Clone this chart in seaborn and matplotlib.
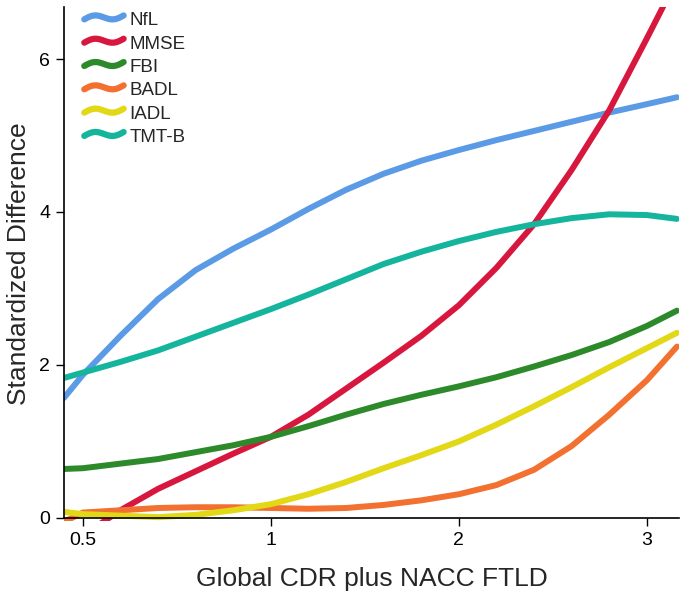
import seaborn as sns
import matplotlib
matplotlib.use("Agg")
import matplotlib.pyplot as plt
import matplotlib.lines as mlines
from matplotlib.legend_handler import HandlerLine2D
import pandas as pd
import numpy as np

# DATA
# x positions on the ordinal CDR axis: 0 = 0.5, 1 = 1, 2 = 2, 3 = 3
cdr_pos = [-0.1, 0.0, 0.2, 0.4, 0.6, 0.8, 1.0, 1.2, 1.4, 1.6, 1.8,
           2.0, 2.2, 2.4, 2.6, 2.8, 3.0, 3.16]
tick_pos = [0, 1, 2, 3]
tick_labels = ['0.5', '1', '2', '3']

nfl = [1.57, 1.87, 2.38, 2.86, 3.24, 3.52, 3.77, 4.04, 4.29, 4.50, 4.67,
       4.81, 4.94, 5.06, 5.18, 5.30, 5.41, 5.50]
mmse = [-0.45, -0.23, 0.10, 0.38, 0.61, 0.84, 1.06, 1.35, 1.69, 2.03, 2.38,
        2.78, 3.27, 3.84, 4.55, 5.33, 6.27, 7.04]
fbi = [0.64, 0.65, 0.71, 0.77, 0.86, 0.95, 1.06, 1.20, 1.35, 1.49, 1.61,
       1.72, 1.84, 1.98, 2.13, 2.30, 2.51, 2.71]
badl = [-0.05, 0.07, 0.10, 0.13, 0.14, 0.14, 0.13, 0.12, 0.13, 0.17, 0.23,
        0.31, 0.43, 0.63, 0.94, 1.35, 1.80, 2.24]
iadl = [0.08, 0.05, 0.03, 0.01, 0.04, 0.10, 0.18, 0.31, 0.47, 0.65, 0.82,
        1.00, 1.22, 1.46, 1.71, 1.97, 2.22, 2.42]
tmtb = [1.83, 1.90, 2.04, 2.19, 2.37, 2.55, 2.73, 2.92, 3.12, 3.32, 3.48,
        3.62, 3.74, 3.84, 3.92, 3.97, 3.96, 3.91]

measures = ['NfL', 'MMSE', 'FBI', 'BADL', 'IADL', 'TMT-B']
colors = {'NfL': '#5b9be6', 'MMSE': '#d8173f', 'FBI': '#2d8a2a',
          'BADL': '#f37130', 'IADL': '#e2d816', 'TMT-B': '#14b59c'}

series = dict(zip(measures, [nfl, mmse, fbi, badl, iadl, tmtb]))
df = pd.concat([pd.DataFrame({'cdr': cdr_pos, 'diff': v, 'measure': k})
                for k, v in series.items()], ignore_index=True)


# wavy legend handles like the original figure
class WavyHandler(HandlerLine2D):
    def create_artists(self, legend, orig_handle, xdescent, ydescent,
                       width, height, fontsize, trans):
        t = np.linspace(0, 1, 40)
        xs = -xdescent + t * width
        ys = -ydescent + height * (0.45 + 0.22 * np.sin(2 * np.pi * t) + 0.3 * t)
        line = mlines.Line2D(xs, ys, color=orig_handle.get_color(),
                             lw=orig_handle.get_linewidth(),
                             solid_capstyle='round')
        line.set_transform(trans)
        return [line]


# VISUALIZATION
sns.set_style('ticks')
plt.rcParams['font.family'] = ['Liberation Sans', 'DejaVu Sans']

fig = plt.figure(figsize=(6.85, 5.94), dpi=100)
ax = fig.add_axes([0.0934, 0.1229, 0.8976, 0.8653])

sns.lineplot(data=df, x='cdr', y='diff', hue='measure', hue_order=measures,
             palette=colors, linewidth=4.3, legend=False, ax=ax, sort=False)
for ln in ax.lines:
    ln.set_solid_joinstyle('round')

ax.set_xlim(-0.1, 3.17)
ax.set_ylim(-0.04, 6.68)
ax.spines['bottom'].set_position(('data', 0))
ax.spines['left'].set_bounds(0, 6.68)
sns.despine(ax=ax)
for s in ['left', 'bottom']:
    ax.spines[s].set_linewidth(1.2)
    ax.spines[s].set_color('black')

ax.set_xticks(tick_pos)
ax.set_xticklabels(tick_labels)
ax.set_yticks([0, 2, 4, 6])
ax.tick_params(axis='both', direction='out', length=6, width=1,
               labelsize=14, colors='black', pad=4)

ax.set_xlabel('Global CDR plus NACC FTLD', fontsize=19, labelpad=13)
ax.set_ylabel('Standardized Difference', fontsize=19, labelpad=6)

handles = [mlines.Line2D([], [], color=colors[m], lw=4.5) for m in measures]
ax.legend(handles, measures, loc='upper left', bbox_to_anchor=(0.033, 0.99),
          frameon=False, fontsize=13.5, handlelength=2.1, handletextpad=0.3,
          labelspacing=0.33, borderpad=0, borderaxespad=0,
          handler_map={mlines.Line2D: WavyHandler()})

fig.savefig('out.png', dpi=100)
